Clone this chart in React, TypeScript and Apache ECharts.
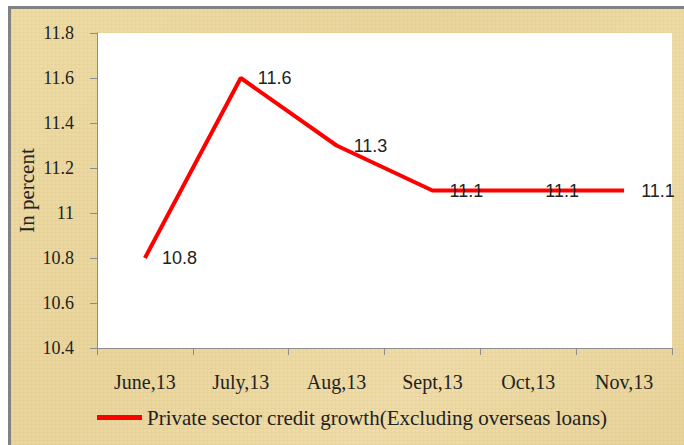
import React, { useEffect, useRef } from "react";
import * as echarts from "echarts";

const categories = ["June,13", "July,13", "Aug,13", "Sept,13", "Oct,13", "Nov,13"];
const creditGrowth = [10.8, 11.6, 11.3, 11.1, 11.1, 11.1];
const seriesName = "Private sector credit growth(Excluding overseas loans)";
const yTitle = "In percent";

export default function App() {
  const ref = useRef<HTMLDivElement>(null);
  useEffect(() => {
    if (!ref.current) return;
    const chart = echarts.init(ref.current, undefined, { renderer: "svg" });
    chart.setOption({
      animation: false,
      backgroundColor: "transparent",
      grid: {
        left: 97,
        top: 33,
        right: 12,
        bottom: 97,
        show: true,
        backgroundColor: "#ffffff",
        borderWidth: 0,
      },
      legend: {
        left: 97,
        top: 407,
        padding: 0,
        icon: "rect",
        itemWidth: 45,
        itemHeight: 5,
        itemGap: 10,
        textStyle: { fontFamily: "Liberation Serif", fontSize: 21, color: "#222" },
        data: [seriesName],
      },
      xAxis: {
        type: "category",
        data: categories,
        boundaryGap: true,
        axisLine: { lineStyle: { color: "#8c8c8c", width: 1 } },
        axisTick: { show: true, length: 7, alignWithLabel: false, lineStyle: { color: "#8c8c8c" } },
        axisLabel: {
          margin: 24,
          fontFamily: "Liberation Serif",
          fontSize: 20,
          color: "#222",
        },
      },
      yAxis: {
        type: "value",
        min: 10.4,
        max: 11.8,
        interval: 0.2,
        name: yTitle,
        nameLocation: "middle",
        nameGap: 60,
        nameMoveOverlap: false,
        nameTextStyle: { fontFamily: "Liberation Serif", fontSize: 21, color: "#222" },
        axisLine: { show: true, lineStyle: { color: "#8c8c8c", width: 1 } },
        axisTick: { show: true, length: 7, lineStyle: { color: "#8c8c8c" } },
        splitLine: { show: false },
        axisLabel: {
          margin: 23,
          fontFamily: "Liberation Serif",
          fontSize: 18,
          color: "#222",
          formatter: (v: number) => String(Math.round(v * 10) / 10),
        },
      },
      series: [
        {
          name: seriesName,
          type: "line",
          data: creditGrowth,
          symbol: "circle",
          symbolSize: 0.1,
          showSymbol: true,
          itemStyle: { color: "#ff0000" },
          lineStyle: { color: "#ff0000", width: 4 },
          label: {
            show: true,
            position: "right",
            distance: 17,
            fontFamily: "Liberation Sans",
            fontSize: 18,
            color: "#222",
          },
        },
      ],
    });
    return () => chart.dispose();
  }, []);

  const texture =
    "repeating-linear-gradient(90deg, rgba(160,130,70,0.06) 0px, rgba(160,130,70,0.06) 1px, transparent 1px, transparent 4px)," +
    "repeating-linear-gradient(0deg, rgba(160,130,70,0.06) 0px, rgba(160,130,70,0.06) 1px, transparent 1px, transparent 4px)," +
    "linear-gradient(135deg, #eedca5 0%, #ead59c 40%, #efdca8 70%, #e8d39a 100%)";

  return (
    <div style={{ position: "fixed", left: 0, top: 0, width: 684, height: 445, background: "#ffffff" }}>
      <div
        style={{
          position: "absolute",
          left: 8,
          top: 6,
          width: 676,
          height: 439,
          boxSizing: "border-box",
          borderTop: "3px solid #828282",
          borderLeft: "3px solid #828282",
          background: texture,
        }}
      />
      <div ref={ref} style={{ position: "absolute", left: 0, top: 0, width: 684, height: 445 }} />
    </div>
  );
}
